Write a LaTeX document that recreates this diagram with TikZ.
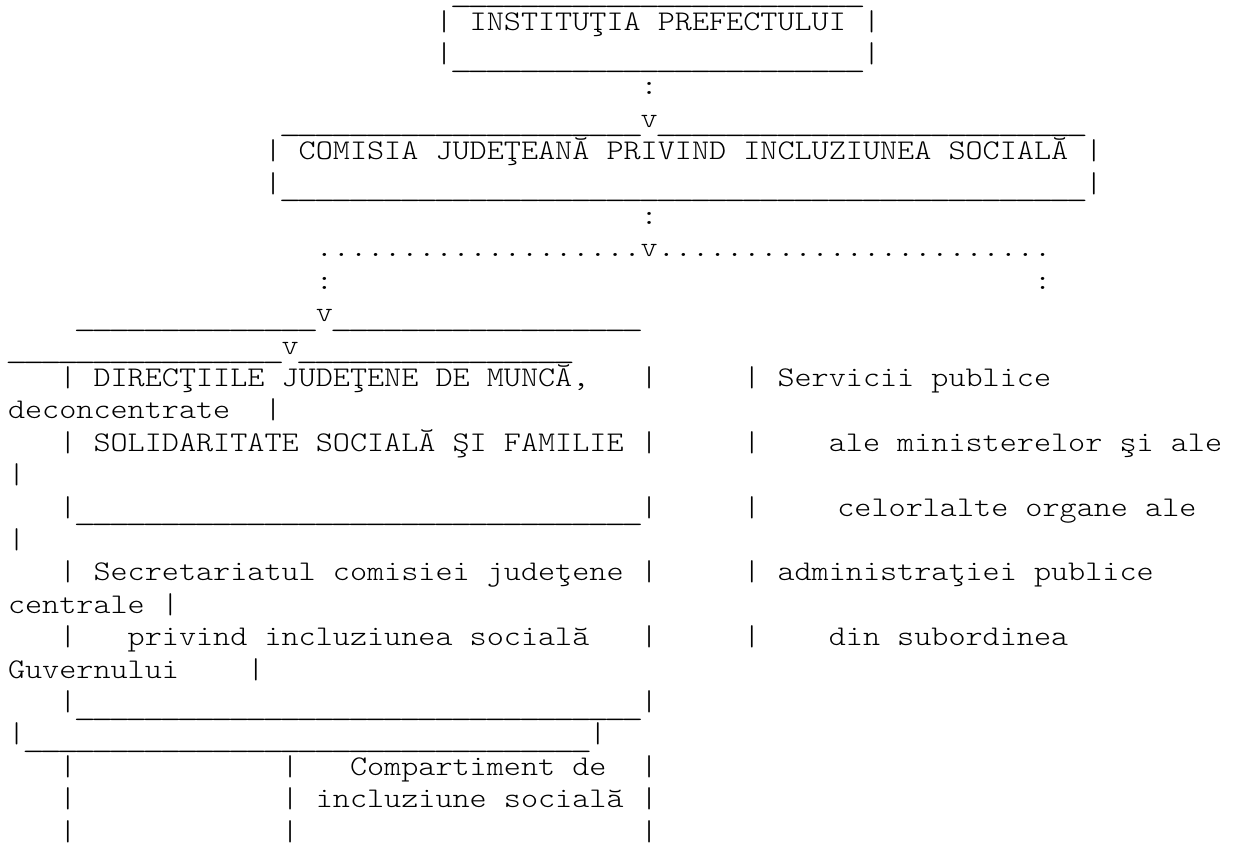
\documentclass[tikz,border=0pt]{standalone}
\usepackage{fontspec}
\usepackage{graphicx}
\setmonofont{lmmonolt10-regular.otf}[FakeStretch=1.1429]
\newcommand{\usc}{\begingroup\sbox0{\_}\makebox[\wd0][c]{\raisebox{-3.5pt}[0pt][0pt]{\scalebox{1.35}[1]{\_}}}\endgroup}
\newcommand{\us}[1]{\foreach \i in {1,...,#1}{\usc}}
\newcommand{\dotrow}[1]{\foreach \i in {1,...,#1}{.}}
\begin{document}
\begin{tikzpicture}[x=12.825pt, y=-24.3pt,
  ascii/.style={anchor=base west, inner sep=0pt, outer sep=0pt,
    font=\ttfamily\fontsize{21.375pt}{25pt}\selectfont}]
\fill[white] (0pt,0pt) rectangle (926.25pt,-632.25pt);
\useasboundingbox (0pt,0pt) rectangle (926.25pt,-632.25pt);
\begin{scope}[shift={(6pt,1.8pt)}]
% institutia prefectului
\node[ascii] (pref-top) at (26,0) {\us{24}};
\node[ascii] (pref) at (25,1) {| INSTITUŢIA PREFECTULUI |};
\node[ascii] (pref-bot) at (25,2) {|\us{24}|};
\node[ascii] (pref-dots) at (37,3) {:};
% comisia judeteana
\node[ascii] (com-top) at (16,4) {\us{21}v\us{25}};
\node[ascii] (com) at (15,5) {| COMISIA JUDEŢEANĂ PRIVIND INCLUZIUNEA SOCIALĂ |};
\node[ascii] (com-bot) at (15,6) {|\us{47}|};
\node[ascii] (com-dots) at (37,7) {:};
\node[ascii] (branch) at (18,8) {\dotrow{19}v\dotrow{23}};
\node[ascii] (branch-l) at (18,9) {:};
\node[ascii] (branch-r) at (60,9) {:};
% directiile judetene
\node[ascii] (dir-top1) at (4,10) {\us{14}v\us{18}};
\node[ascii] (dir-top2) at (0,11) {\us{16}v\us{16}};
\node[ascii] (dir-l1) at (3,12) {|};
\node[ascii] (dir-t1) at (5,12) {DIRECŢIILE JUDEŢENE DE MUNCĂ,};
\node[ascii] (dir-r1) at (37,12) {|};
\node[ascii] (serv-t1) at (43,12) {| Servicii publice};
\node[ascii] (serv-t2) at (0,13) {deconcentrate};
\node[ascii] (serv-r2) at (15,13) {|};
\node[ascii] (dir-t2) at (3,14) {| SOLIDARITATE SOCIALĂ ŞI FAMILIE |};
\node[ascii] (serv-l3) at (43,14) {|};
\node[ascii] (serv-t3) at (48,14) {ale ministerelor şi ale};
\node[ascii] (serv-r3) at (0,15) {|};
\node[ascii] (dir-bot) at (3,16) {|\us{33}|};
\node[ascii] (serv-l4) at (43,16) {|};
\node[ascii] (serv-t4) at (48.5,16) {celorlalte organe ale};
\node[ascii] (serv-r4) at (0,17) {|};
% secretariatul
\node[ascii] (sec-t1) at (3,18) {| Secretariatul comisiei judeţene |};
\node[ascii] (serv-t5) at (43,18) {| administraţiei publice};
\node[ascii] (serv-t6) at (0,19) {centrale |};
\node[ascii] (sec-l2) at (3,20) {|};
\node[ascii] (sec-t2) at (7,20) {privind incluziunea socială};
\node[ascii] (sec-r2) at (37,20) {|};
\node[ascii] (serv-l7) at (43,20) {|};
\node[ascii] (serv-t7) at (48,20) {din subordinea};
\node[ascii] (serv-t8) at (0,21) {Guvernului};
\node[ascii] (serv-r8) at (14,21) {|};
\node[ascii] (sec-bot) at (3,22) {|\us{33}|};
\node[ascii] (serv-bot) at (0,23) {|\us{33}|};
% compartiment
\node[ascii] (cmp-l1) at (3,24) {|};
\node[ascii] (cmp-m1) at (16,24) {|};
\node[ascii] (cmp-t1) at (20,24) {Compartiment de};
\node[ascii] (cmp-r1) at (37,24) {|};
\node[ascii] (cmp-l2) at (3,25) {|};
\node[ascii] (cmp-t2) at (16,25) {| incluziune socială |};
\foreach \c in {3,16,37} {
  \node[ascii] (cmp-\c) at (\c,26) {|};
}
\end{scope}
\end{tikzpicture}
\end{document}
